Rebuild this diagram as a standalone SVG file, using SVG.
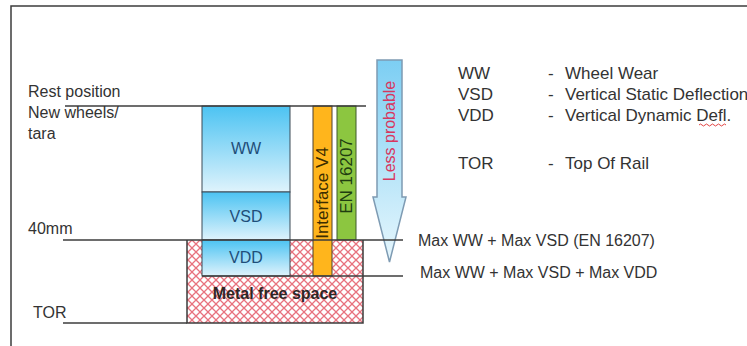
<svg xmlns="http://www.w3.org/2000/svg" width="747" height="346" viewBox="0 0 747 346">
<style>
  text { font-family: "Liberation Sans", Arial, sans-serif; }
  .lbl { font-size: 16px; fill: #333333; }
  .leg { font-size: 17px; fill: #333333; }
  .box { stroke: #3d4a57; stroke-width: 1; fill: url(#blueGrad); }
  .boxt { font-size: 16px; fill: #1f4e79; text-anchor: middle; }
  .ln { stroke: #3c3c3c; stroke-width: 1.5; fill: none; }
</style>
<defs>
  <linearGradient id="blueGrad" x1="0" y1="0" x2="0" y2="1">
    <stop offset="0" stop-color="#4cc3f2"/>
    <stop offset="1" stop-color="#dff3fc"/>
  </linearGradient>
  <linearGradient id="arrowGrad" x1="0" y1="0" x2="0" y2="1">
    <stop offset="0" stop-color="#7ccef3"/>
    <stop offset="1" stop-color="#e8f7fd"/>
  </linearGradient>
  <pattern id="hatch" patternUnits="userSpaceOnUse" width="8" height="8">
    <rect width="8" height="8" fill="#ffffff"/>
    <path d="M0,0 L8,8 M8,0 L0,8" stroke="#e8727e" stroke-width="1.3"/>
  </pattern>
</defs>
<rect width="747" height="346" fill="#ffffff"/>
<!-- frame -->
<path d="M11,346 L11,6 L747,6" class="ln" stroke-width="1.5"/>

<g id="metal-free-space">
  <rect x="187" y="240" width="176" height="83" fill="url(#hatch)"/>
  <path d="M187,240 L187,323 L363,323 L363,240" class="ln"/>
  <text x="275" y="299" text-anchor="middle" font-size="16" font-weight="bold" fill="#2e2626">Metal free space</text>
</g>

<g id="ww">
  <rect x="202" y="106" width="88" height="86" class="box"/>
  <text x="246" y="154" class="boxt">WW</text>
</g>
<g id="vsd">
  <rect x="202" y="192" width="88" height="48" class="box"/>
  <text x="246" y="222" class="boxt">VSD</text>
</g>
<g id="vdd">
  <rect x="202" y="240" width="88" height="36" class="box"/>
  <text x="246" y="263" class="boxt">VDD</text>
</g>

<g id="interface-v4">
  <rect x="313" y="106" width="19" height="170" fill="#ffb51c" stroke="#4a4030" stroke-width="1"/>
  <text transform="translate(328,193) rotate(-90)" text-anchor="middle" font-size="17" fill="#3b2c00">Interface V4</text>
</g>
<g id="en-16207">
  <rect x="337" y="106" width="19" height="134" fill="#8cc640" stroke="#3f5a2a" stroke-width="1"/>
  <text transform="translate(352,176) rotate(-90)" text-anchor="middle" font-size="17" fill="#1f3d10">EN 16207</text>
</g>

<g id="less-probable">
  <path d="M377,60 L402,60 L402,197 L406,197 L389.5,262 L373,197 L377,197 Z" fill="url(#arrowGrad)" stroke="#7e9bb3" stroke-width="1.5"/>
  <text transform="translate(395,131) rotate(-90)" text-anchor="middle" font-size="16" fill="#d8375f">Less probable</text>
</g>

<g id="connectors">
  <line x1="65" y1="106" x2="366" y2="106" class="ln"/>
  <line x1="63" y1="240" x2="403" y2="240" class="ln"/>
  <line x1="202" y1="276" x2="403" y2="276" class="ln"/>
  <line x1="63" y1="323" x2="187" y2="323" class="ln"/>
</g>

<g id="left-labels">
  <text x="28" y="97" class="lbl">Rest position</text>
  <text x="28" y="118" class="lbl">New wheels/</text>
  <text x="28" y="139" class="lbl">tara</text>
  <text x="28" y="234" class="lbl">40mm</text>
  <text x="33" y="318" class="lbl">TOR</text>
</g>

<g id="limit-labels">
  <text x="418" y="246" class="lbl">Max WW + Max VSD (EN 16207)</text>
  <text x="420" y="278" class="lbl">Max WW + Max VSD + Max VDD</text>
</g>

<g id="legend">
  <text x="458" y="79" class="leg">WW</text>
  <text x="548" y="79" class="leg">-</text>
  <text x="565" y="79" class="leg">Wheel Wear</text>
  <text x="458" y="100" class="leg">VSD</text>
  <text x="548" y="100" class="leg">-</text>
  <text x="565" y="100" class="leg">Vertical Static Deflection</text>
  <text x="458" y="121" class="leg">VDD</text>
  <text x="548" y="121" class="leg">-</text>
  <text x="565" y="121" class="leg">Vertical Dynamic Defl.</text>
  <path d="M699,125 q1.5,-2 3,0 t3,0 t3,0 t3,0 t3,0 t3,0 t3,0 t3,0 t3,0" fill="none" stroke="#e03030" stroke-width="0.9"/>
  <text x="458" y="169" class="leg">TOR</text>
  <text x="548" y="169" class="leg">-</text>
  <text x="565" y="169" class="leg">Top Of Rail</text>
</g>
</svg>
